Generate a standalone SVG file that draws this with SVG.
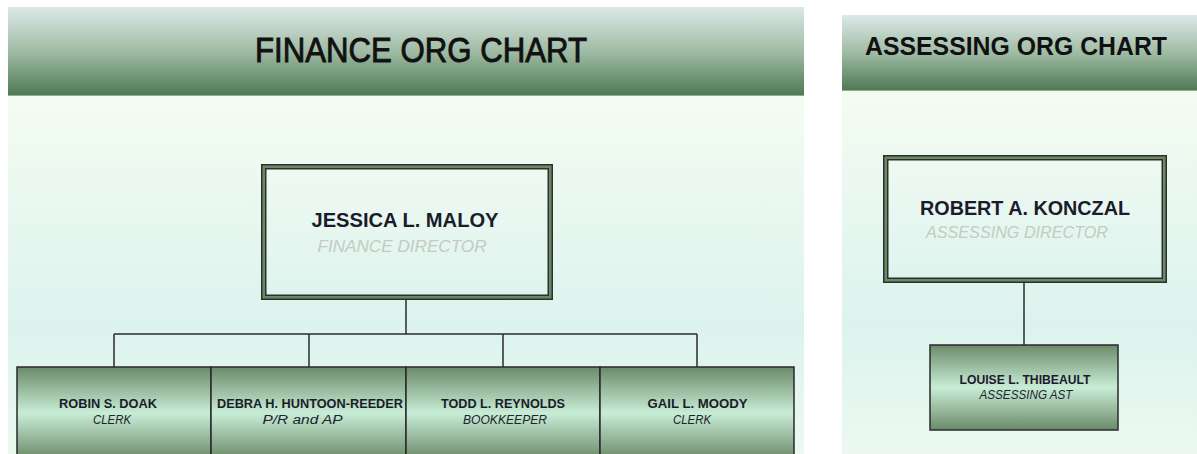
<svg xmlns="http://www.w3.org/2000/svg" width="1197" height="454" viewBox="0 0 1197 454">
  <defs>
    <linearGradient id="hdr" x1="0" y1="0" x2="0" y2="1">
      <stop offset="0" stop-color="#dce9e8"/>
      <stop offset="0.5" stop-color="#9fbba4"/>
      <stop offset="1" stop-color="#4d7852"/>
    </linearGradient>
    <linearGradient id="panel" x1="0" y1="0" x2="0" y2="1">
      <stop offset="0" stop-color="#f4fcf1"/>
      <stop offset="0.65" stop-color="#dcf3ee"/>
      <stop offset="1" stop-color="#ecf9f0"/>
    </linearGradient>
    <linearGradient id="boxFill" x1="0" y1="0" x2="0" y2="1">
      <stop offset="0" stop-color="#eef9f1"/>
      <stop offset="1" stop-color="#dff4ef"/>
    </linearGradient>
    <linearGradient id="staff" x1="0" y1="0" x2="0" y2="1">
      <stop offset="0" stop-color="#6b8a69"/>
      <stop offset="0.5" stop-color="#c8edd6"/>
      <stop offset="1" stop-color="#6b8a69"/>
    </linearGradient>
    <style>
      .hdr { fill: url(#hdr); }
      .panel { fill: url(#panel); }
      .title { font-family: "Liberation Sans", Arial, sans-serif; fill: #111; text-anchor: middle; }
      .name { font-family: "Liberation Sans", Arial, sans-serif; font-weight: bold; fill: #1b1b2b; text-anchor: middle; }
      .role { font-family: "Liberation Sans", Arial, sans-serif; font-style: italic; text-anchor: middle; }
      .dir-role { fill: #c3cbc2; }
      .staff-role { fill: #222230; }
      .edge { fill: #2e2e2e; }
      .band { fill: #688a65; }
      .inner { fill: url(#boxFill); }
      .staff { fill: url(#staff); stroke: #2a2a2a; stroke-width: 1.5; }
      .conn { stroke: #2b2b2b; stroke-width: 1.5; fill: none; }
    </style>
  </defs>

  <rect width="1197" height="454" fill="#ffffff"/>

  <!-- Finance panel -->
  <rect class="hdr" x="8" y="7" width="796" height="89"/>
  <rect x="8" y="95" width="796" height="1" fill="#8fae90"/>
  <rect class="panel" x="8" y="96" width="796" height="358"/>
  <text class="title" x="421" y="62" font-size="35" stroke="#111" stroke-width="0.9" textLength="332" lengthAdjust="spacingAndGlyphs">FINANCE ORG CHART</text>

  <!-- Assessing panel -->
  <rect class="hdr" x="842" y="15" width="355" height="76"/>
  <rect x="842" y="90" width="355" height="1" fill="#8fae90"/>
  <rect class="panel" x="842" y="91" width="355" height="363"/>
  <text class="title" x="1016" y="55" font-size="25" font-weight="bold" textLength="302" lengthAdjust="spacingAndGlyphs">ASSESSING ORG CHART</text>

  <!-- Connectors -->
  <g id="connectors">
    <path class="conn" d="M406 300 V334"/>
    <path class="conn" d="M114 334 H697"/>
    <path class="conn" d="M114 334 V367"/>
    <path class="conn" d="M309 334 V367"/>
    <path class="conn" d="M503 334 V367"/>
    <path class="conn" d="M697 334 V367"/>
    <path class="conn" d="M1024 283 V345"/>
  </g>

  <!-- Finance director -->
  <g id="jessica-maloy">
    <rect class="edge" x="261" y="164" width="292" height="136"/>
    <rect class="band" x="262.5" y="165.5" width="289" height="133"/>
    <rect class="edge" x="265" y="168" width="284" height="128"/>
    <rect class="inner" x="266.5" y="169.5" width="281" height="125"/>
    <text class="name" x="405" y="227" font-size="20" textLength="187" lengthAdjust="spacingAndGlyphs">JESSICA L. MALOY</text>
    <text class="role dir-role" x="402" y="252" font-size="17" textLength="169" lengthAdjust="spacingAndGlyphs">FINANCE DIRECTOR</text>
  </g>

  <!-- Finance staff -->
  <g id="robin-doak">
    <rect class="staff" x="17" y="367" width="194" height="92"/>
    <text class="name" x="108" y="408" font-size="12.5" textLength="98" lengthAdjust="spacingAndGlyphs">ROBIN S. DOAK</text>
    <text class="role staff-role" x="112" y="424" font-size="12.5" textLength="38" lengthAdjust="spacingAndGlyphs">CLERK</text>
  </g>
  <g id="debra-huntoon-reeder">
    <rect class="staff" x="211" y="367" width="195" height="92"/>
    <text class="name" x="310" y="408" font-size="12.5" textLength="186" lengthAdjust="spacingAndGlyphs">DEBRA H. HUNTOON-REEDER</text>
    <text class="role staff-role" x="302.5" y="424" font-size="12.5" textLength="80" lengthAdjust="spacingAndGlyphs">P/R and AP</text>
  </g>
  <g id="todd-reynolds">
    <rect class="staff" x="406" y="367" width="194" height="92"/>
    <text class="name" x="503" y="408" font-size="12.5" textLength="124" lengthAdjust="spacingAndGlyphs">TODD L. REYNOLDS</text>
    <text class="role staff-role" x="505" y="424" font-size="12.5" textLength="84" lengthAdjust="spacingAndGlyphs">BOOKKEEPER</text>
  </g>
  <g id="gail-moody">
    <rect class="staff" x="600" y="367" width="194" height="92"/>
    <text class="name" x="697.5" y="408" font-size="12.5" textLength="100" lengthAdjust="spacingAndGlyphs">GAIL L. MOODY</text>
    <text class="role staff-role" x="692" y="424" font-size="12.5" textLength="38" lengthAdjust="spacingAndGlyphs">CLERK</text>
  </g>

  <!-- Assessing director -->
  <g id="robert-konczal">
    <rect class="edge" x="883" y="155" width="284" height="128"/>
    <rect class="band" x="884.5" y="156.5" width="281" height="125"/>
    <rect class="edge" x="887" y="159" width="276" height="120"/>
    <rect class="inner" x="888.5" y="160.5" width="273" height="117"/>
    <text class="name" x="1025" y="215" font-size="20" textLength="210" lengthAdjust="spacingAndGlyphs">ROBERT A. KONCZAL</text>
    <text class="role dir-role" x="1017" y="238" font-size="17" textLength="182" lengthAdjust="spacingAndGlyphs">ASSESSING DIRECTOR</text>
  </g>

  <!-- Assessing staff -->
  <g id="louise-thibeault">
    <rect class="staff" x="930" y="345" width="188" height="85"/>
    <text class="name" x="1025" y="384" font-size="12.5" textLength="131" lengthAdjust="spacingAndGlyphs">LOUISE L. THIBEAULT</text>
    <text class="role staff-role" x="1026" y="399" font-size="12.5" textLength="93" lengthAdjust="spacingAndGlyphs">ASSESSING AST</text>
  </g>
</svg>
